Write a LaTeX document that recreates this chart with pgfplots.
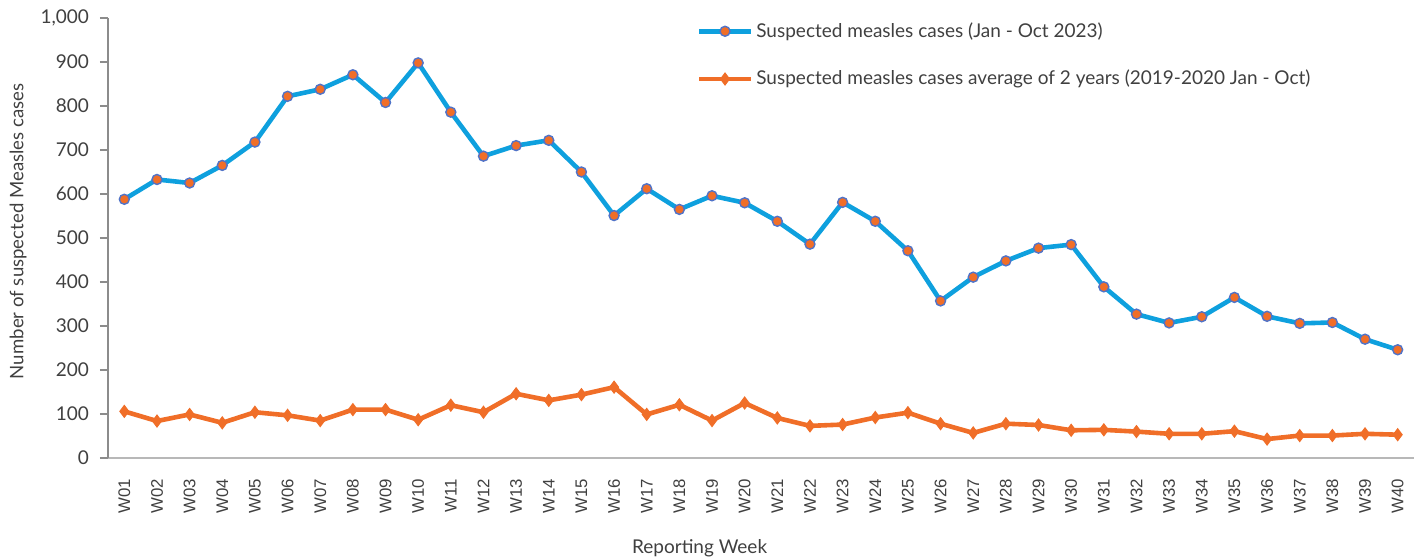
\documentclass[border=0pt]{standalone}
\usepackage{pgfplots}
\pgfplotsset{compat=1.18}
\usepackage{fontspec}
\setmainfont{Lato}
\newfontfamily\xfont{Liberation Sans}
\definecolor{bl}{RGB}{14,160,222}
\definecolor{orr}{RGB}{240,110,40}
\definecolor{mk}{RGB}{80,115,200}
\definecolor{txt}{RGB}{64,64,64}
\pgfplotstableread{
w blue orange
1 588 106
2 633 84
3 625 99
4 665 80
5 718 104
6 822 97
7 838 85
8 871 110
9 808 110
10 898 87
11 786 120
12 686 104
13 710 146
14 722 131
15 650 144
16 551 161
17 612 99
18 565 121
19 596 85
20 580 125
21 538 91
22 486 73
23 581 76
24 538 92
25 471 103
26 357 78
27 411 57
28 448 78
29 477 75
30 485 63
31 389 64
32 327 60
33 307 55
34 321 55
35 365 61
36 322 43
37 306 51
38 308 51
39 270 55
40 246 53
}\data
\begin{document}
\begin{tikzpicture}
\useasboundingbox (-54pt,-50pt) rectangle (659pt,229pt);
\begin{axis}[
  scale only axis, width=653pt, height=220pt,
  xmin=0.5, xmax=40.5, ymin=0, ymax=1000,
  clip=false,
  axis lines=left, axis line style={-},
  x axis line style={draw=black!28, line width=0.8pt},
  y axis line style={draw=black!45, line width=0.8pt},
  xtick={1,...,40},
  xticklabels={W01,W02,W03,W04,W05,W06,W07,W08,W09,W10,W11,W12,W13,W14,W15,W16,W17,W18,W19,W20,W21,W22,W23,W24,W25,W26,W27,W28,W29,W30,W31,W32,W33,W34,W35,W36,W37,W38,W39,W40},
  xtick style={draw=none},
  xticklabel style={rotate=90, anchor=east, font=\xfont\fontsize{8.4}{10}\selectfont, text=txt},
  xticklabel shift=3pt,
  ytick={0,100,...,1000},
  tick align=outside, major tick length=4pt,
  ytick style={draw=black!45, line width=0.8pt},
  yticklabel style={font=\fontsize{9.5}{11}\selectfont, text=txt},
  yticklabel shift=2pt,
  /pgf/number format/assume math mode=true,
  /pgf/number format/1000 sep={,},
  ylabel={Number of suspected Measles cases},
  ylabel style={at={(axis description cs:-0.0689,0.515)}, anchor=center, font=\fontsize{9.3}{10}\selectfont, text=txt},
  xlabel={Reporting Week},
  xlabel style={at={(axis description cs:0.453,-0.2045)}, anchor=center, font=\fontsize{9.5}{11}\selectfont, text=txt},
  legend style={at={(axis description cs:0.4505,1.0)}, anchor=north west, draw=none, fill=none,
     font=\fontsize{9.5}{11}\selectfont, text=txt, row sep=11pt, inner sep=0pt, nodes={inner xsep=1.5pt}},
  legend cell align=left,
  legend image code/.code={\draw[mark repeat=2, mark phase=2, #1] plot coordinates {(0pt,0pt) (13pt,0pt) (26pt,0pt)};},
]
\addplot[color=bl, line width=2.3pt, mark=*, mark size=2.5pt,
  mark options={fill=orr, draw=mk, line width=0.7pt}] table[x=w,y=blue]{\data};
\addlegendentry{Suspected measles cases (Jan - Oct 2023)}
\addplot[color=orr, line width=2.3pt, mark=diamond*, mark size=3pt,
  mark options={fill=orr, draw=orr, line width=0.5pt}] table[x=w,y=orange]{\data};
\addlegendentry{Suspected measles cases average of 2 years (2019-2020 Jan - Oct)}
\end{axis}
\end{tikzpicture}
\end{document}
